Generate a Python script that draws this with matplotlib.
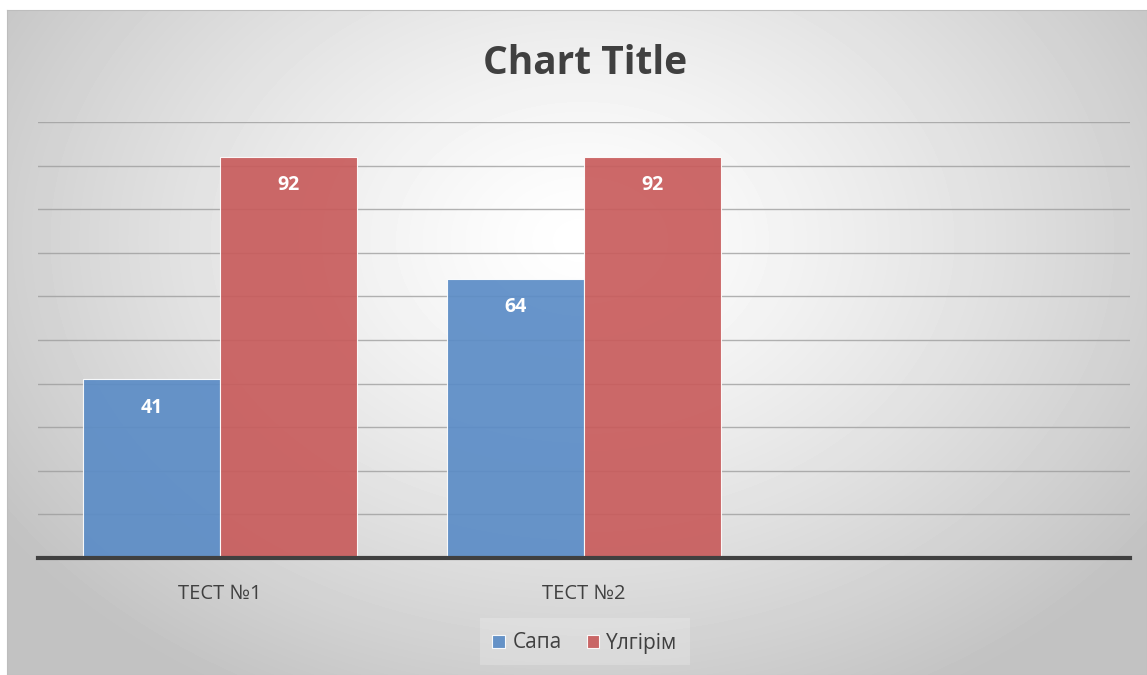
import numpy as np
import matplotlib
matplotlib.use("Agg")
from matplotlib import pyplot as plt
from matplotlib.patches import Rectangle

categories = ["ТЕСТ №1", "ТЕСТ №2", ""]
sapa = [41, 64, np.nan]
ulgirim = [92, 92, np.nan]
series_names = ["Сапа", "Үлгірім"]
colors = ["#5b8cc6", "#c85c5c"]

plt.rcParams['font.family'] = ['Open Sans', 'DejaVu Sans']

W, H = 1147, 675
fig = plt.figure(figsize=(W / 100, H / 100), dpi=100)
fig.patch.set_facecolor("white")

# radial gradient background
bg = fig.add_axes([7 / W, 0, (W - 7) / W, (H - 10) / H])
yy, xx = np.mgrid[0:665, 0:1140]
r = np.sqrt(((xx - 575) / 700.0) ** 2 + ((yy - 230) / 520.0) ** 2)
shade = 1.0 - 0.24 * np.clip(r, 0, 1) ** 1.3
bg.imshow(shade, cmap="gray", vmin=0, vmax=1, aspect="auto",
          extent=[0, 1, 0, 1], origin="upper")
bg.set_xlim(0, 1)
bg.set_ylim(0, 1)
for s in bg.spines.values():
    s.set_color("#bdbdbd")
bg.set_xticks([])
bg.set_yticks([])
# lighter box behind legend
bg.add_patch(Rectangle(((480 - 7) / 1140, (675 - 665) / 665), 210 / 1140, 47 / 665,
                       facecolor="white", alpha=0.2, edgecolor="none"))

ax = fig.add_axes([38 / W, 117 / H, 1092 / W, 436 / H])
ax.patch.set_alpha(0)
x = np.arange(len(categories))
w = 0.376
b1 = ax.bar(x - w / 2, sapa, w, color=colors[0], alpha=0.92, edgecolor="white",
            linewidth=0.8, label=series_names[0], zorder=3)
b2 = ax.bar(x + w / 2, ulgirim, w, color=colors[1], alpha=0.92, edgecolor="white",
            linewidth=0.8, label=series_names[1], zorder=3)

for bars, vals in [(b1, sapa), (b2, ulgirim)]:
    for rect, v in zip(bars, vals):
        if np.isnan(v):
            continue
        ax.text(rect.get_x() + rect.get_width() / 2, v - 6.5, f"{v:g}",
                ha="center", va="center", color="white", fontsize=14,
                fontweight="bold", zorder=5)

ax.set_xlim(-0.5, 2.5)
ax.set_ylim(0, 100)
ax.set_yticks(np.arange(10, 101, 10))
ax.yaxis.grid(True, color="#9a9a9a", linewidth=1.0, zorder=4, alpha=0.75)
ax.set_axisbelow(False)
ax.tick_params(axis="y", left=False, labelleft=False)
ax.tick_params(axis="x", length=0, pad=19, labelsize=14.5, labelcolor="#404040")
ax.set_xticks(x)
ax.set_xticklabels(categories)
for side in ["top", "right", "left"]:
    ax.spines[side].set_visible(False)
ax.spines["bottom"].set_color("#404040")
ax.spines["bottom"].set_linewidth(3)
ax.spines["bottom"].set_zorder(6)

fig.text(585 / W, 1 - 64 / H, "Chart Title", ha="center", va="center",
         fontsize=28, fontweight="bold", color="#404040")

leg = fig.legend(handles=[b1, b2], labels=series_names, loc="center",
                 bbox_to_anchor=(585 / W, 1 - 643 / H), ncol=2, frameon=False,
                 fontsize=15, handlelength=0.6, handleheight=0.6,
                 handletextpad=0.35, columnspacing=1.2, labelcolor="#404040")

fig.savefig("out.png", dpi=100)
